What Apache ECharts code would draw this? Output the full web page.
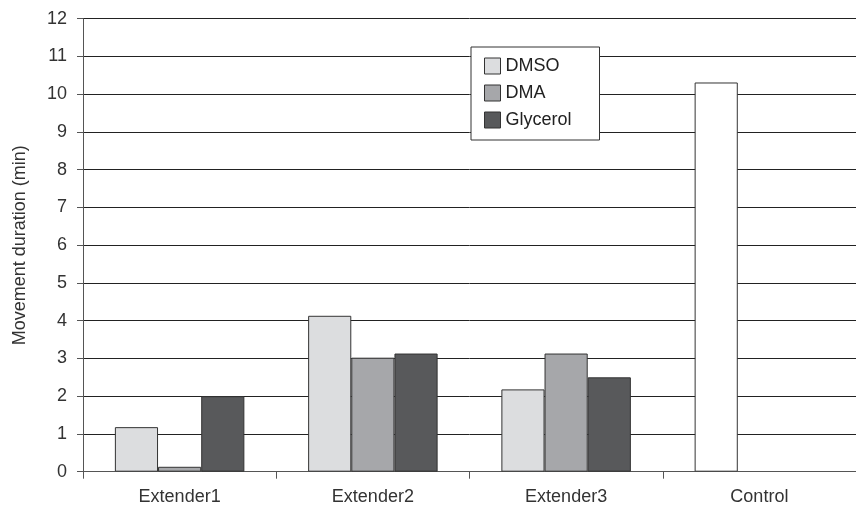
<!DOCTYPE html>
<html><head><meta charset="utf-8">
<script src="https://cdn.jsdelivr.net/npm/echarts@6/dist/echarts.min.js"></script>
<style>html,body{margin:0;padding:0;background:#fff}#c{width:856px;height:511px}</style>
</head><body><div id="c"></div>
<script>
const categories = ['Extender1', 'Extender2', 'Extender3', 'Control'];
const dmso = [1.18, 4.13, 2.18, 10.31];
const dma = [0.13, 3.02, 3.13, null];
const glycerol = [2.0, 3.13, 2.5, null];
const seriesNames = ['DMSO', 'DMA', 'Glycerol'];
const colors = ['#dcdddf', '#a6a7aa', '#58595b'];
const controlColor = '#ffffff';

const font = 'Liberation Sans, Arial, sans-serif';
const chart = echarts.init(document.getElementById('c'), null, {renderer: 'canvas'});
function mk(name, vals, color) {
  return {
    name: name, type: 'bar', barGap: '0%', barCategoryGap: '33%',
    itemStyle: {color: color, borderColor: '#333', borderWidth: 1},
    data: vals.map((v, i) => (name === 'DMSO' && categories[i] === 'Control') ? {value: v, itemStyle: {color: controlColor}} : v),
    emphasis: {disabled: true}
  };
}
chart.setOption({
  animation: false,
  grid: {left: 83, top: 18.7, width: 776, bottom: 39.3, containLabel: false},
  legend: {
    orient: 'vertical', left: 471, top: 47,
    backgroundColor: '#fff', borderColor: '#333', borderWidth: 1,
    padding: [10, 28, 11, 13],
    itemWidth: 16, itemHeight: 16, itemGap: 9, itemTextGap: 13,
    icon: 'rect',
    itemStyle: {borderColor: '#333', borderWidth: 1},
    textStyle: {fontFamily: font, fontSize: 18, lineHeight: 16, color: '#222'},
    data: seriesNames
  },
  xAxis: {
    type: 'category', data: categories,
    axisLine: {lineStyle: {color: '#555', width: 1}},
    axisTick: {show: true, length: 7, lineStyle: {color: '#555'}},
    axisLabel: {margin: 16, fontFamily: font, fontSize: 18, color: '#333'}
  },
  yAxis: {
    type: 'value', min: 0, max: 12, interval: 1,
    name: 'Movement duration (min)', nameLocation: 'middle', nameGap: 54,
    nameTextStyle: {fontFamily: font, fontSize: 18, color: '#333'},
    axisLine: {show: true, lineStyle: {color: '#555', width: 1}},
    axisTick: {show: true, length: 6, lineStyle: {color: '#555'}},
    axisLabel: {margin: 16, fontFamily: font, fontSize: 18, color: '#333'},
    splitLine: {show: true, lineStyle: {color: '#222', width: 1}}
  },
  series: [mk('DMSO', dmso, colors[0]), mk('DMA', dma, colors[1]), mk('Glycerol', glycerol, colors[2])]
});
</script></body></html>
